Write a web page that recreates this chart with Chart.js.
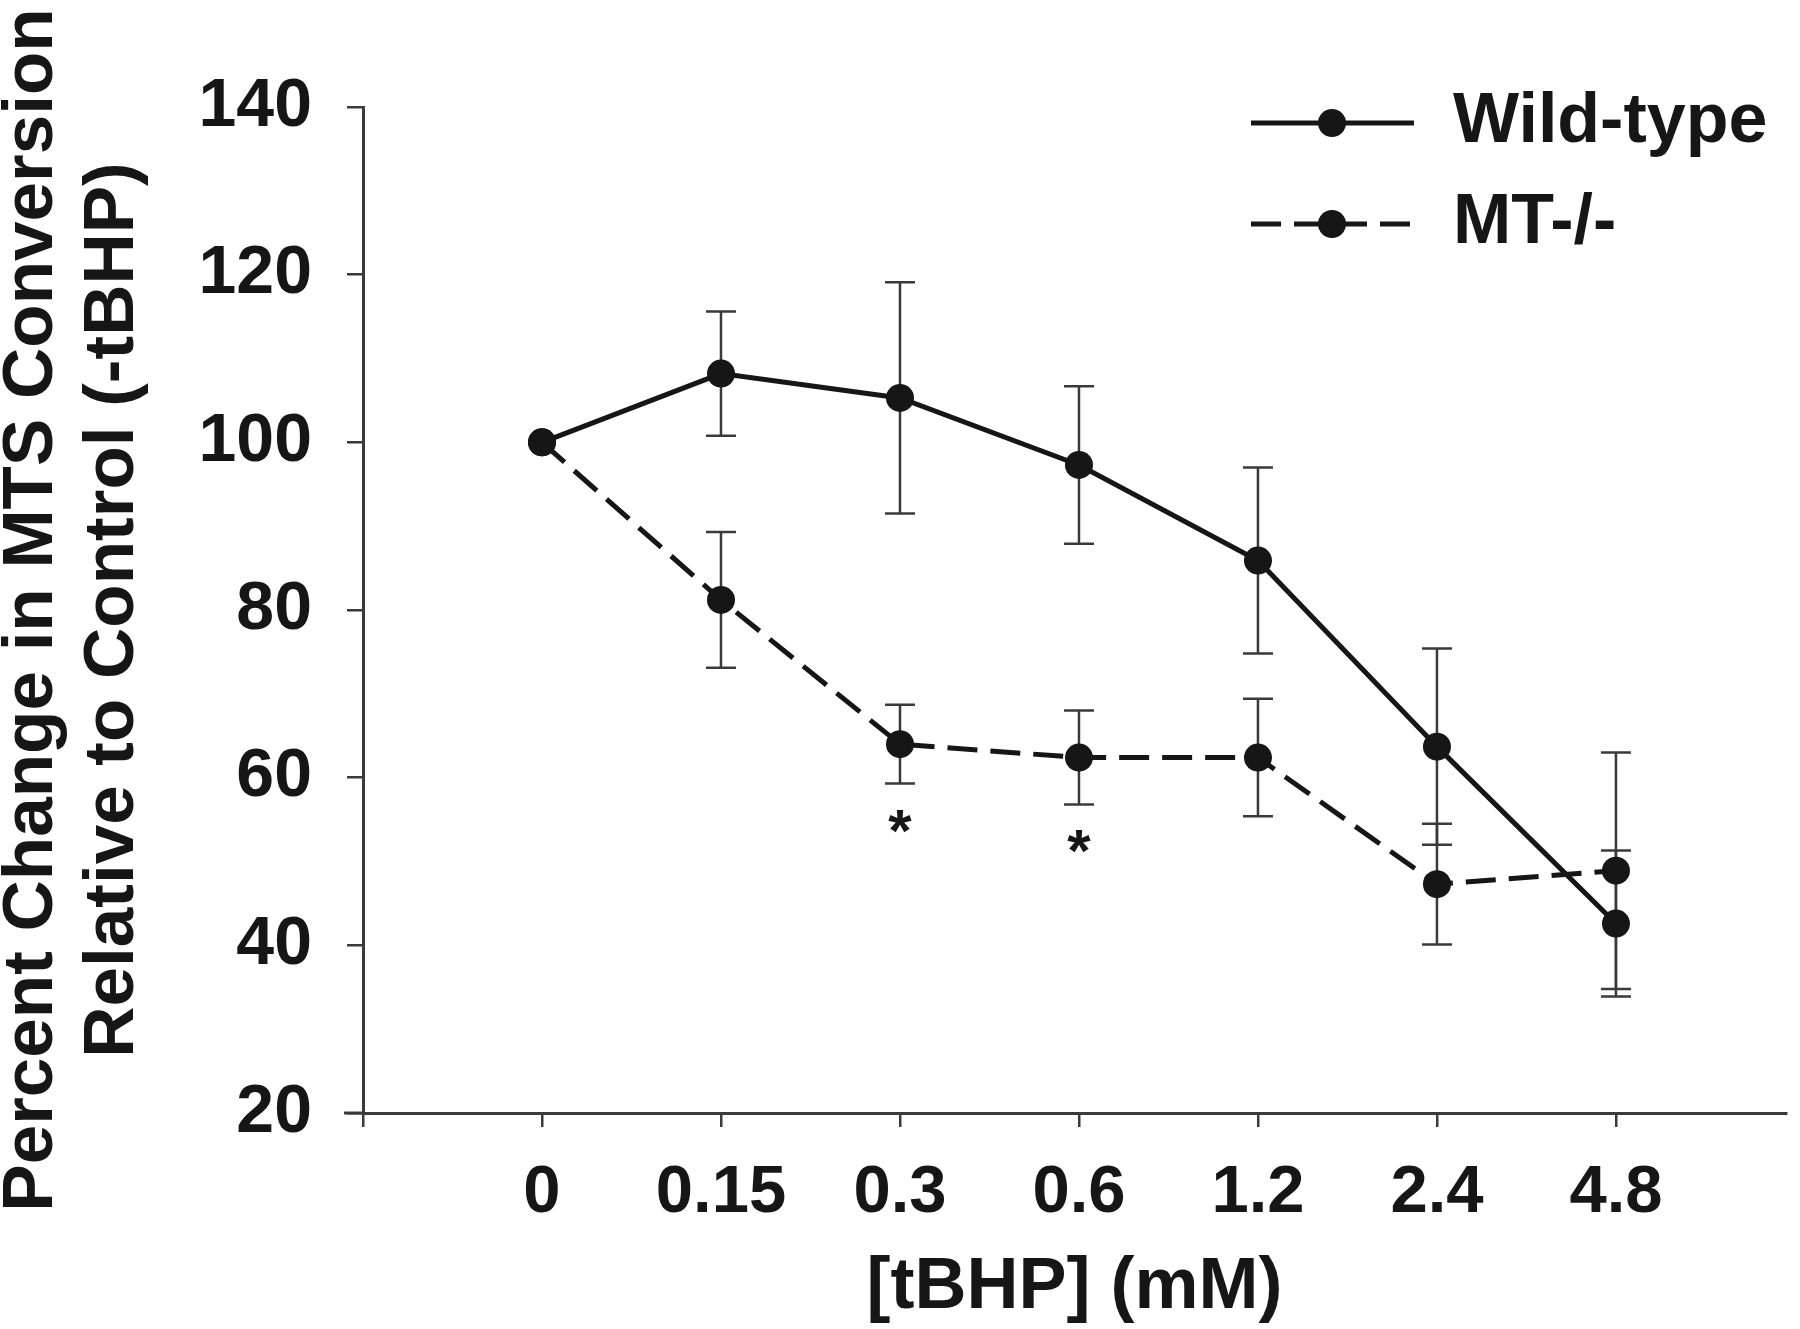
<!DOCTYPE html>
<html>
<head>
<meta charset="utf-8">
<script src="https://cdn.jsdelivr.net/npm/chart.js@4.4.1/dist/chart.umd.min.js"></script>
<style>
  html, body { margin: 0; padding: 0; background: #fff; overflow: hidden; }
  #wrap { width: 1800px; height: 1329px; position: relative; }
</style>
</head>
<body>
<div id="wrap"><canvas id="mtsChart"></canvas></div>
<script>
// data
const doseLabels = ['0', '0.15', '0.3', '0.6', '1.2', '2.4', '4.8'];
const wildTypeMean = [100, 108.2, 105.3, 97.3, 85.9, 63.7, 42.6];
const wildTypeErr = [0, 7.4, 13.8, 9.4, 11.1, 11.7, 8.7];
const mtKoMean = [100, 81.2, 64.0, 62.4, 62.4, 47.3, 48.9];
const mtKoErr = [0, 8.1, 4.7, 5.6, 7.0, 7.2, 14.1];
const significant = [false, false, true, true, false, false, false];
const seriesNames = ['Wild-type', 'MT-/-'];

const FONT = '"Liberation Sans", Arial, sans-serif';
const INK = '#161616';
const AXIS = '#3a3a3a';

const toPoints = arr => arr.map((v, i) => ({ x: i, y: v }));

// error bars, asterisks, legend
const extras = {
  id: 'extras',
  beforeDatasetsDraw(chart) {
    const { ctx, scales: { x, y } } = chart;
    ctx.save();
    ctx.strokeStyle = AXIS;
    ctx.lineWidth = 2.5;
    [[wildTypeMean, wildTypeErr], [mtKoMean, mtKoErr]].forEach(([mean, err]) => {
      mean.forEach((m, i) => {
        if (!err[i]) return;
        const px = x.getPixelForValue(i);
        const top = y.getPixelForValue(m + err[i]);
        const bot = y.getPixelForValue(m - err[i]);
        ctx.beginPath();
        ctx.moveTo(px, top); ctx.lineTo(px, bot);
        ctx.moveTo(px - 15, top); ctx.lineTo(px + 15, top);
        ctx.moveTo(px - 15, bot); ctx.lineTo(px + 15, bot);
        ctx.stroke();
      });
    });
    ctx.restore();
  },
  afterDraw(chart) {
    const { ctx, scales: { x, y } } = chart;
    ctx.save();

    // x axis runs a little past the y axis on the left
    ctx.strokeStyle = AXIS;
    ctx.lineWidth = 3;
    ctx.beginPath();
    ctx.moveTo(344, x.top);
    ctx.lineTo(x.left, x.top);
    ctx.stroke();

    // significance marks under MT-/-
    ctx.fillStyle = INK;
    ctx.font = 'bold 60px ' + FONT;
    ctx.textAlign = 'center';
    ctx.textBaseline = 'alphabetic';
    significant.forEach((s, i) => {
      if (!s) return;
      const px = x.getPixelForValue(i);
      const py = y.getPixelForValue(mtKoMean[i] - mtKoErr[i]) + 33;
      ctx.fillText('*', px, py + 34);
    });

    // legend
    const rows = [{ y: 123, dash: [] }, { y: 224, dash: [30, 13] }];
    rows.forEach((r, i) => {
      ctx.strokeStyle = INK;
      ctx.lineWidth = 5;
      ctx.setLineDash(r.dash);
      ctx.beginPath();
      ctx.moveTo(1251, r.y);
      ctx.lineTo(1414, r.y);
      ctx.stroke();
      ctx.setLineDash([]);
      ctx.beginPath();
      ctx.arc(1332, r.y, 14, 0, Math.PI * 2);
      ctx.fill();
      ctx.font = 'bold 70px ' + FONT;
      ctx.textAlign = 'left';
      ctx.textBaseline = 'middle';
      ctx.fillText(seriesNames[i], 1453, r.y);
    });
    ctx.restore();
  }
};

const lineStyle = {
  borderColor: INK,
  borderWidth: 5,
  pointRadius: 14,
  pointHoverRadius: 14,
  pointBackgroundColor: INK,
  pointBorderWidth: 0,
  tension: 0,
  fill: false,
  clip: false
};

new Chart(document.getElementById('mtsChart'), {
  type: 'line',
  data: {
    datasets: [
      Object.assign({ label: seriesNames[1], data: toPoints(mtKoMean), borderDash: [30, 13] }, lineStyle),
      Object.assign({ label: seriesNames[0], data: toPoints(wildTypeMean) }, lineStyle)
    ]
  },
  options: {
    responsive: true,
    maintainAspectRatio: false,
    animation: false,
    devicePixelRatio: 1,
    layout: { padding: { top: 107, right: 3, left: 0, bottom: 0 } },
    plugins: {
      legend: { display: false },
      tooltip: { enabled: false }
    },
    scales: {
      x: {
        type: 'linear',
        min: -1,
        max: 6.95,
        afterFit: s => { s.height = 216; s.paddingLeft = 0; s.paddingRight = 0; },
        afterBuildTicks: s => { s.ticks = [-1, 0, 1, 2, 3, 4, 5, 6].map(v => ({ value: v })); },
        ticks: {
          autoSkip: false,
          maxRotation: 0,
          padding: 26,
          color: INK,
          font: { family: FONT, size: 67, weight: 'bold', lineHeight: 1.2 },
          callback: v => doseLabels[v] ?? ''
        },
        grid: {
          display: true,
          drawOnChartArea: false,
          drawTicks: true,
          tickLength: 14,
          lineWidth: 2.5,
          color: AXIS
        },
        border: { display: true, color: AXIS, width: 3 },
        title: {
          display: true,
          text: '[tBHP] (mM)',
          color: INK,
          font: { family: FONT, size: 72, weight: 'bold', lineHeight: 1.2 },
          padding: { top: 0, bottom: -2 }
        }
      },
      y: {
        min: 20,
        max: 140,
        afterFit: s => { s.width = 363; },
        ticks: {
          stepSize: 20,
          padding: 35,
          color: INK,
          font: { family: FONT, size: 68, weight: 'bold' }
        },
        grid: {
          display: true,
          drawOnChartArea: false,
          drawTicks: true,
          tickLength: 16,
          lineWidth: 2.5,
          color: AXIS
        },
        border: { display: true, color: AXIS, width: 3 },
        title: {
          display: true,
          text: ['Percent Change in MTS Conversion', 'Relative to Control (-tBHP)'],
          color: INK,
          font: { family: FONT, size: 71, weight: 'bold', lineHeight: 1.14 },
          padding: { top: -8, bottom: 0 }
        }
      }
    }
  },
  plugins: [extras]
});
</script>
</body>
</html>
